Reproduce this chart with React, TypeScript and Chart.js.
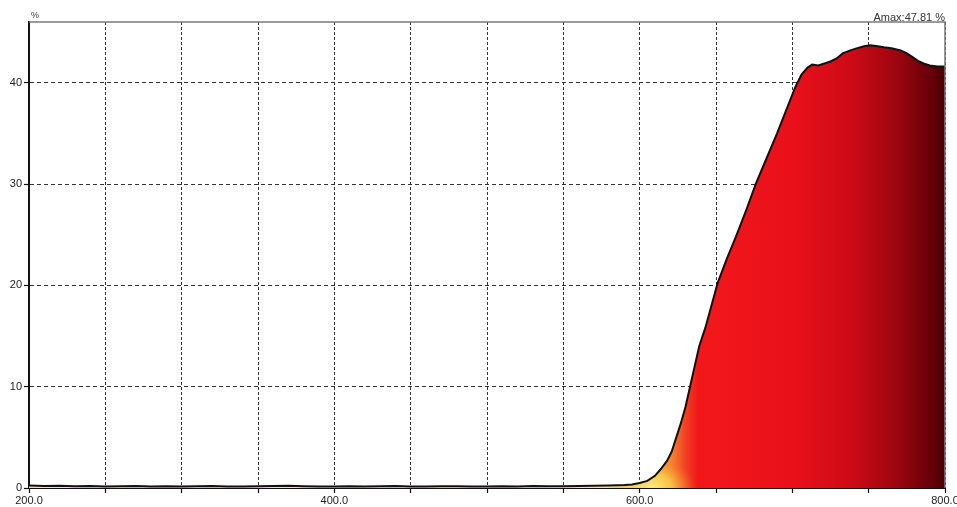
import React, { useEffect, useRef } from "react";
import { Chart, registerables } from "chart.js";

Chart.register(...registerables);

// Wavelength (nm) and transmittance (%)
const wavelengths: number[] = [
  200, 210, 220, 230, 240, 250, 260, 270, 280, 290, 300, 310, 320, 330, 340, 350, 360, 370, 380, 390,
  400, 410, 420, 430, 440, 450, 460, 470, 480, 490, 500, 510, 520, 530, 540, 550, 560, 570, 580, 590,
  595, 600, 605, 610, 614, 618, 621, 624, 627, 630, 633, 636, 639, 643, 647, 651, 657, 663, 670, 676,
  683, 690, 696, 702, 706, 710, 713, 717, 721, 725, 729, 733, 738, 742, 747, 751, 756, 760, 765, 771,
  775, 779, 783, 786, 790, 795, 800,
];
const transmittance: number[] = [
  0.25, 0.2, 0.22, 0.18, 0.2, 0.15, 0.18, 0.2, 0.16, 0.18, 0.15, 0.17, 0.2, 0.16, 0.15, 0.18, 0.2, 0.22, 0.17, 0.15,
  0.16, 0.18, 0.15, 0.17, 0.2, 0.16, 0.15, 0.18, 0.17, 0.16, 0.15, 0.18, 0.16, 0.2, 0.17, 0.18, 0.2, 0.22, 0.25, 0.3,
  0.35, 0.5, 0.7, 1.2, 1.9, 2.7, 3.6, 5.0, 6.4, 8.0, 10.0, 12.0, 14.0, 15.8, 18.0, 20.2, 22.6, 24.8, 27.5, 30.0,
  32.5, 35.0, 37.3, 39.6, 40.8, 41.5, 41.8, 41.7, 41.9, 42.1, 42.4, 42.9, 43.2, 43.4, 43.6, 43.7, 43.6, 43.5, 43.4, 43.2,
  42.9, 42.5, 42.1, 41.9, 41.7, 41.6, 41.6,
];
const xTickLabels: number[] = [200, 400, 600, 800];
const yUnit = "%";
const amaxLabel = "Amax:47.81 %";

const FONT = "'Liberation Sans', Arial, sans-serif";

export default function App() {
  const ref = useRef<HTMLCanvasElement | null>(null);

  useEffect(() => {
    if (!ref.current) return;
    let cachedPattern: CanvasPattern | null = null;
    let cacheKey = "";

    const makeFill = (chart: any) => {
      const area = chart.chartArea;
      if (!area) return "#e01010";
      const xs = chart.scales.x;
      const ys = chart.scales.y;
      const key = `${chart.width}x${chart.height}:${area.left},${area.right},${area.top},${area.bottom}`;
      if (cachedPattern && key === cacheKey) return cachedPattern;
      const off = document.createElement("canvas");
      const dpr = chart.currentDevicePixelRatio || 1;
      off.width = Math.round(chart.width * dpr);
      off.height = Math.round(chart.height * dpr);
      const c = off.getContext("2d")!;
      c.scale(dpr, dpr);
      const x0 = xs.getPixelForValue(600);
      const x1 = xs.getPixelForValue(800);
      const g = c.createLinearGradient(x0, 0, x1, 0);
      g.addColorStop(0, "#f7e49a");
      g.addColorStop(0.05, "#f6c050");
      g.addColorStop(0.1, "#f58a32");
      g.addColorStop(0.15, "#f24022");
      g.addColorStop(0.19, "#f2181a");
      g.addColorStop(0.5, "#ea101a");
      g.addColorStop(0.7, "#cc0a16");
      g.addColorStop(0.85, "#98060e");
      g.addColorStop(0.95, "#680008");
      g.addColorStop(1, "#4a0004");
      c.fillStyle = g;
      c.fillRect(0, 0, chart.width, chart.height);
      // warm yellow glow near the bottom of the rising edge
      const cx = xs.getPixelForValue(608);
      const cy = ys.getPixelForValue(0);
      c.save();
      c.translate(cx, cy);
      c.scale(1.4, 1);
      const r = c.createRadialGradient(0, 0, 0, 0, 0, 32);
      r.addColorStop(0, "rgba(250,234,130,1)");
      r.addColorStop(0.45, "rgba(248,205,75,0.8)");
      r.addColorStop(0.75, "rgba(245,150,45,0.4)");
      r.addColorStop(1, "rgba(242,90,30,0)");
      c.fillStyle = r;
      c.fillRect(-50, -50, 100, 100);
      c.restore();
      const p = chart.ctx.createPattern(off, "no-repeat");
      if (p && dpr !== 1 && (p as any).setTransform) {
        (p as any).setTransform(new DOMMatrix().scale(1 / dpr, 1 / dpr));
      }
      cachedPattern = p;
      cacheKey = key;
      return p || "#e01010";
    };

    const framePlugin = {
      id: "frame",
      afterDraw(chart: any) {
        const { ctx, chartArea } = chart;
        ctx.save();
        ctx.strokeStyle = "#7a7a7a";
        ctx.lineWidth = 1.5;
        ctx.beginPath();
        ctx.moveTo(chartArea.left, chartArea.top);
        ctx.lineTo(chartArea.right, chartArea.top);
        ctx.lineTo(chartArea.right, chartArea.bottom);
        ctx.stroke();
        ctx.fillStyle = "#333";
        ctx.font = `9px ${FONT}`;
        ctx.textAlign = "left";
        ctx.textBaseline = "alphabetic";
        ctx.fillText(yUnit, chartArea.left + 2, chartArea.top - 4);
        ctx.font = `11px ${FONT}`;
        ctx.textAlign = "right";
        ctx.fillText(amaxLabel, chartArea.right, chartArea.top - 1);
        ctx.restore();
      },
    };

    const chart = new Chart(ref.current, {
      type: "line",
      data: {
        datasets: [
          {
            data: wavelengths.map((w, i) => ({ x: w, y: transmittance[i] })),
            borderColor: "#111",
            borderWidth: 2,
            pointRadius: 0,
            tension: 0,
            fill: "origin",
            backgroundColor: (ctx: any) => makeFill(ctx.chart),
          },
        ],
      },
      options: {
        animation: false,
        responsive: false,
        devicePixelRatio: 1,
        layout: { padding: { top: 22, right: 12, left: 0, bottom: 0 } },
        plugins: { legend: { display: false }, tooltip: { enabled: false } },
        scales: {
          x: {
            type: "linear",
            min: 200,
            max: 800,
            afterFit: (s: any) => {
              s.height = 19;
              s.paddingLeft = 0;
              s.paddingRight = 0;
            },
            ticks: {
              stepSize: 50,
              autoSkip: false,
              maxRotation: 0,
              padding: 1,
              color: "#222",
              font: { family: FONT, size: 11 },
              callback: (v: any) => (xTickLabels.includes(Number(v)) ? Number(v).toFixed(1) : ""),
            },
            grid: {
              color: "#333",
              lineWidth: 1,
              drawTicks: true,
              tickLength: 5,
              tickColor: "#111",
              tickWidth: 1.2,
            },
            border: { display: true, color: "#111", width: 2, dash: [3, 2] },
          },
          y: {
            min: 0,
            max: 46,
            afterFit: (s: any) => {
              s.width = 29;
              s.paddingTop = 0;
              s.paddingBottom = 0;
            },
            ticks: {
              stepSize: 10,
              includeBounds: false,
              padding: 2,
              color: "#222",
              font: { family: FONT, size: 11 },
            },
            grid: {
              color: "#333",
              lineWidth: 1,
              drawTicks: true,
              tickLength: 5,
              tickColor: "#111",
              tickWidth: 1.2,
            },
            border: { display: true, color: "#111", width: 2, dash: [4, 3] },
          },
        },
      },
      plugins: [framePlugin],
    } as any);

    return () => chart.destroy();
  }, []);

  return (
    <div style={{ position: "fixed", left: 0, top: 0, width: 957, height: 507, overflow: "hidden", background: "#fff" }}>
      <canvas ref={ref} width={957} height={507} style={{ width: 957, height: 507, display: "block" }} />
    </div>
  );
}
